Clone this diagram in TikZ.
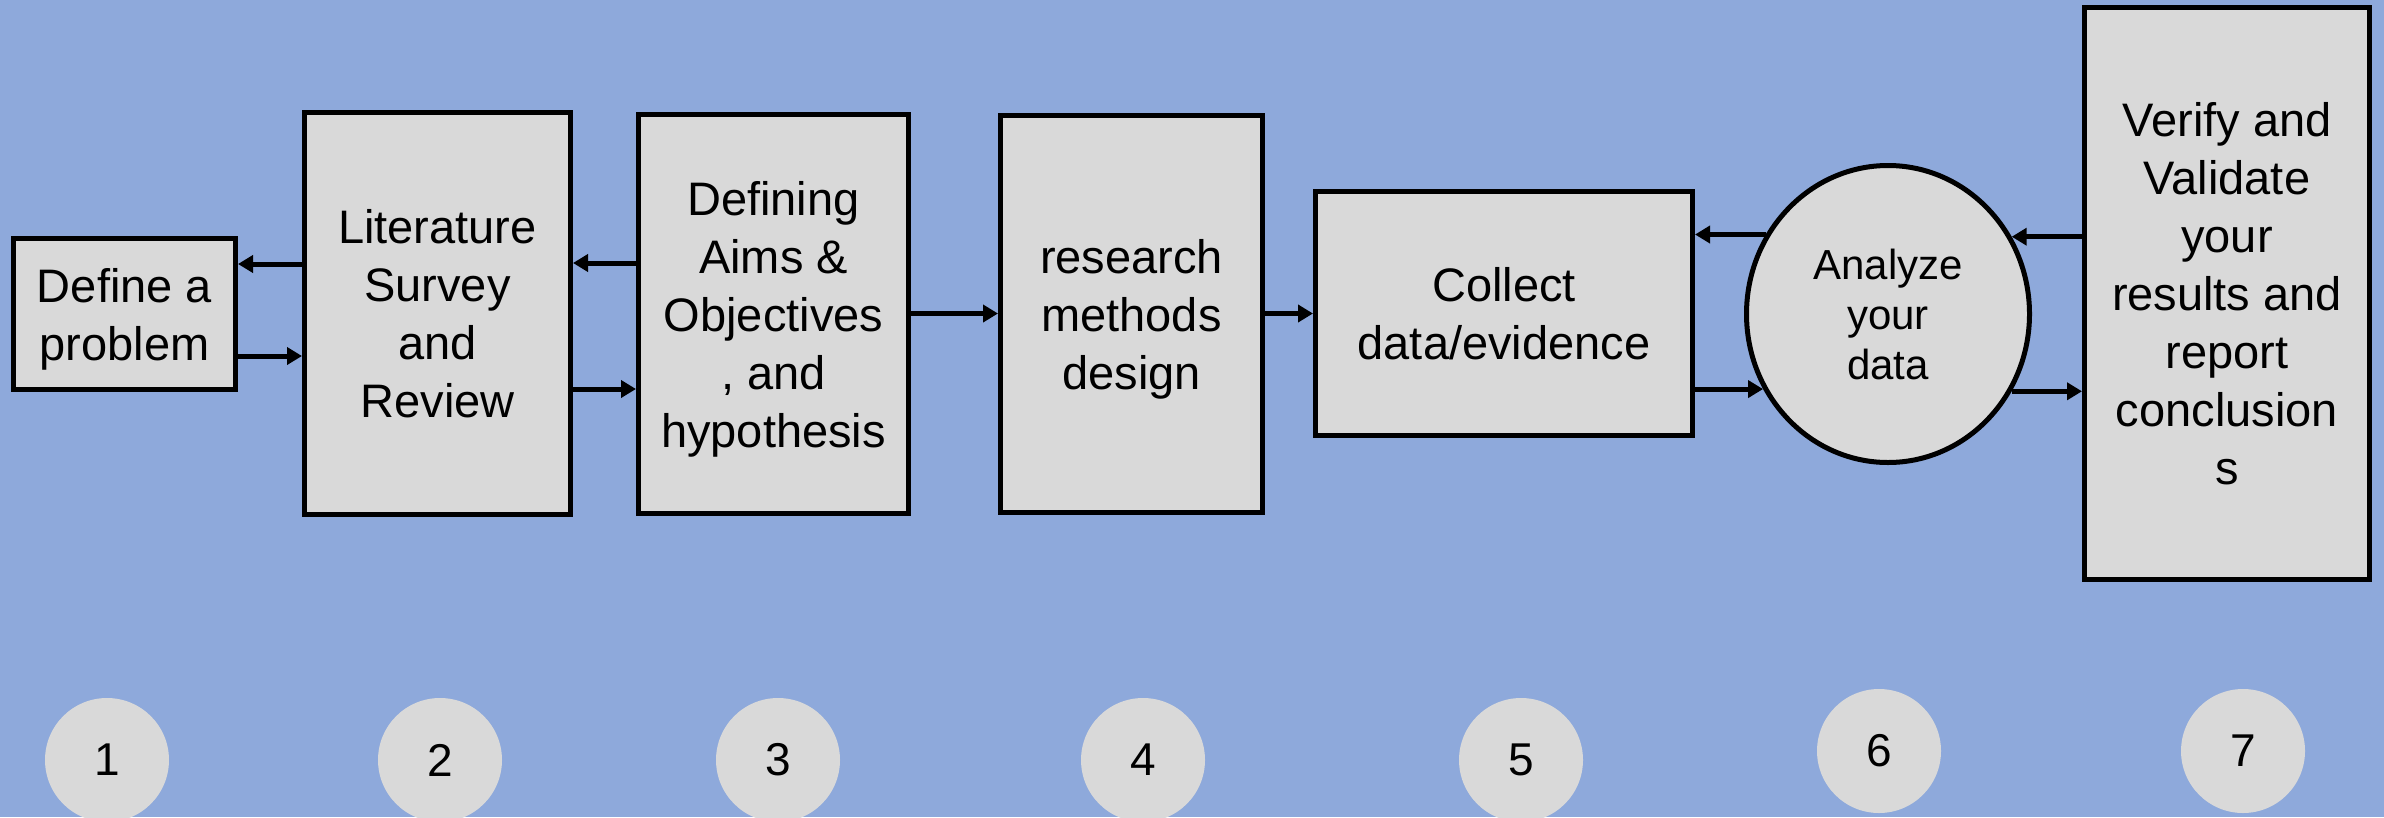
\documentclass[tikz,border=0pt]{standalone}
\usepackage{fontspec}
\setmainfont{Liberation Sans}
\usetikzlibrary{arrows.meta,shapes.geometric}
\definecolor{bgblue}{RGB}{142,169,219}
\definecolor{boxgray}{RGB}{217,217,217}
% last line of a label: its descenders do not count when centring
\newcommand{\flatline}[1]{\raisebox{0pt}[\height][0pt]{#1}}
\begin{document}
\begin{tikzpicture}[x=1pt,y=-1pt,
  stage/.style={draw=black, line width=5pt, fill=boxgray, align=center,
    inner sep=0pt, font=\fontsize{47}{58}\selectfont},
  flow/.style={line width=5pt, -{Triangle[length=15pt,width=17pt]}},
  badge/.style={circle, fill=boxgray, minimum size=124pt, inner sep=0pt,
    font=\fontsize{46}{55}\selectfont}]
  % canvas
  \useasboundingbox (0,0) rectangle (2384,817);
  \clip (0,0) rectangle (2384,817);
  \fill[bgblue] (0,0) rectangle (2384,817);

  % process stages
  \node[stage, minimum width=222pt, minimum height=151pt] (s1) at (124.5,314)
    {Define a\\\flatline{problem}};
  \node[stage, minimum width=266pt, minimum height=402pt] (s2) at (437.5,313.5)
    {Literature\\Survey\\and\\Review};
  \node[stage, minimum width=270pt, minimum height=399pt] (s3) at (773.5,314)
    {Defining\\Aims \&\\Objectives\\, and\\\flatline{hypothesis}};
  \node[stage, minimum width=262pt, minimum height=397pt] (s4) at (1131.5,314)
    {research\\methods\\\flatline{design}};
  \node[stage, minimum width=377pt, minimum height=244pt] (s5) at (1504,313.5)
    {Collect\\data/evidence};
  \node[stage, ellipse, minimum width=283pt, minimum height=297pt,
    font=\fontsize{42}{50}\selectfont] (s6) at (1888,314)
    {Analyze\\your\\data};
  \node[stage, minimum width=285pt, minimum height=572pt] (s7) at (2227,293.5)
    {Verify and\\Validate\\your\\results and\\report\\conclusion\\s};

  % connector rows
  \coordinate (r1) at (0,264);
  \coordinate (r2) at (0,356);
  \coordinate (r3) at (0,263);
  \coordinate (r4) at (0,389);
  \coordinate (r5) at (0,313.5);

  % connectors
  \draw[flow] (s2.west |- r1) -- (s1.east |- r1);
  \draw[flow] (s1.east |- r2) -- (s2.west |- r2);
  \draw[flow] (s3.west |- r3) -- (s2.east |- r3);
  \draw[flow] (s2.east |- r4) -- (s3.west |- r4);
  \draw[flow] (s3.east |- r5) -- (s4.west |- r5);
  \draw[flow] (s4.east |- r5) -- (s5.west |- r5);
  \draw[flow] (s6.147.2) -- (s5.east |- s6.147.2);
  \draw[flow] (s5.east |- s6.211.4) -- (s6.211.4);
  \draw[flow] (s7.west |- s6.32.8) -- (s6.32.8);
  \draw[flow] (s6.328.6) -- (s7.west |- s6.328.6);

  % step numbers
  \node[badge] (n1) at (107,760) {1};
  \node[badge] (n2) at (440,760) {2};
  \node[badge] (n3) at (778,760) {3};
  \node[badge] (n4) at (1143,760) {4};
  \node[badge] (n5) at (1521,760) {5};
  \node[badge] (n6) at (1879,751) {6};
  \node[badge] (n7) at (2243,751) {7};
\end{tikzpicture}
\end{document}
